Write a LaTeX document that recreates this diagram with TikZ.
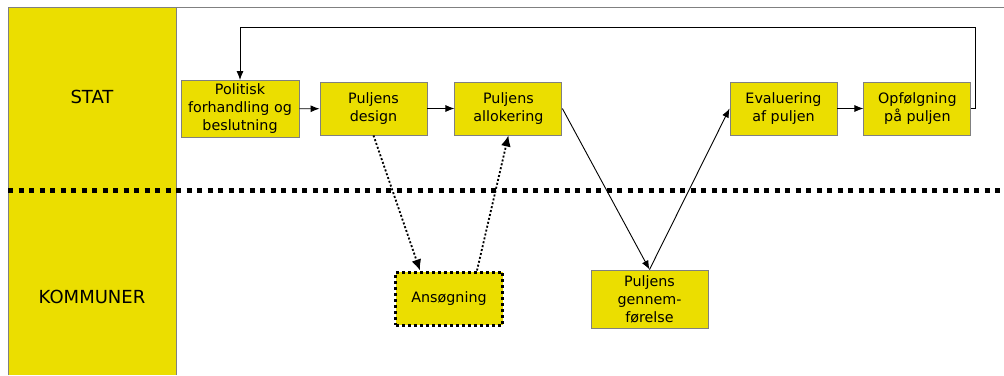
\documentclass[tikz,border=0pt]{standalone}
\usepackage{fontspec}
\setmainfont{DejaVu Sans}
\usetikzlibrary{positioning,arrows.meta}
\definecolor{puljegul}{RGB}{235,222,0}
\definecolor{kantgraa}{RGB}{128,128,128}

\begin{document}
\begin{tikzpicture}[x=1pt,y=-1pt,line width=0.9pt,
                    main node/.style={rectangle,draw=kantgraa,fill=puljegul,align=center,
                                      minimum width=107pt,minimum height=53pt,inner sep=2pt,
                                      font=\fontsize{14.3}{18}\selectfont},
                    flow/.style={-{Latex[length=9pt,width=7pt]}},
                    dots/.style={line width=1.8pt,dash pattern=on 2pt off 2pt,
                                 -{Latex[length=11pt,width=10pt]}}]
	\useasboundingbox (0,0) rectangle (1004,375);

	% venstre kolonne og ramme
	\fill[puljegul] (8,7) rectangle (176,375);
	\draw[kantgraa] (8,375) -- (8,7) -- (1004,7);
	\draw[kantgraa] (176,7) -- (176,375);
	\node[font=\fontsize{18}{20}\selectfont] (stat) at (92,97) {STAT};
	\node[font=\fontsize{18}{20}\selectfont] (kom) at (92,297) {KOMMUNER};

	% skillelinje
	\draw[line width=5pt,dash pattern=on 5pt off 5.5pt] (8,190) -- (1004,190);

	% trin
	\node[main node,minimum width=118pt,minimum height=57pt] (1) at (240,109) {Politisk\\forhandling og\\beslutning};
	\node[main node] (2) at (373.5,108.5) {Puljens\\design};
	\node[main node] (3) [right=27pt of 2] {Puljens\\allokering};
	\node[main node] (4) at (783.5,108.5) {Evaluering\\af puljen};
	\node[main node] (6) [right=26pt of 4] {Opfølgning\\på puljen};
	\node[main node,draw=black,line width=3pt,dash pattern=on 3pt off 3pt] (5) at (449,298.5) {Ansøgning};
	\node[main node,minimum width=117pt,minimum height=58pt] (7) at (649.5,299) {Puljens\\gennem-\\førelse};
	\coordinate (top) at (975,27);

	\path[flow]
		(1) edge (2)
		(2) edge (3)
		(4) edge (6)
		(3.east) edge (7.north)
		(7.north) edge (4.west);
	\draw[flow] (6.east) -| (top) -| (1.north);

	\draw[dots] (2.south) -- ([xshift=-29pt]5.north);
	\draw[dots] ([xshift=28pt]5.north) -- (3.south);
\end{tikzpicture}
\end{document}
